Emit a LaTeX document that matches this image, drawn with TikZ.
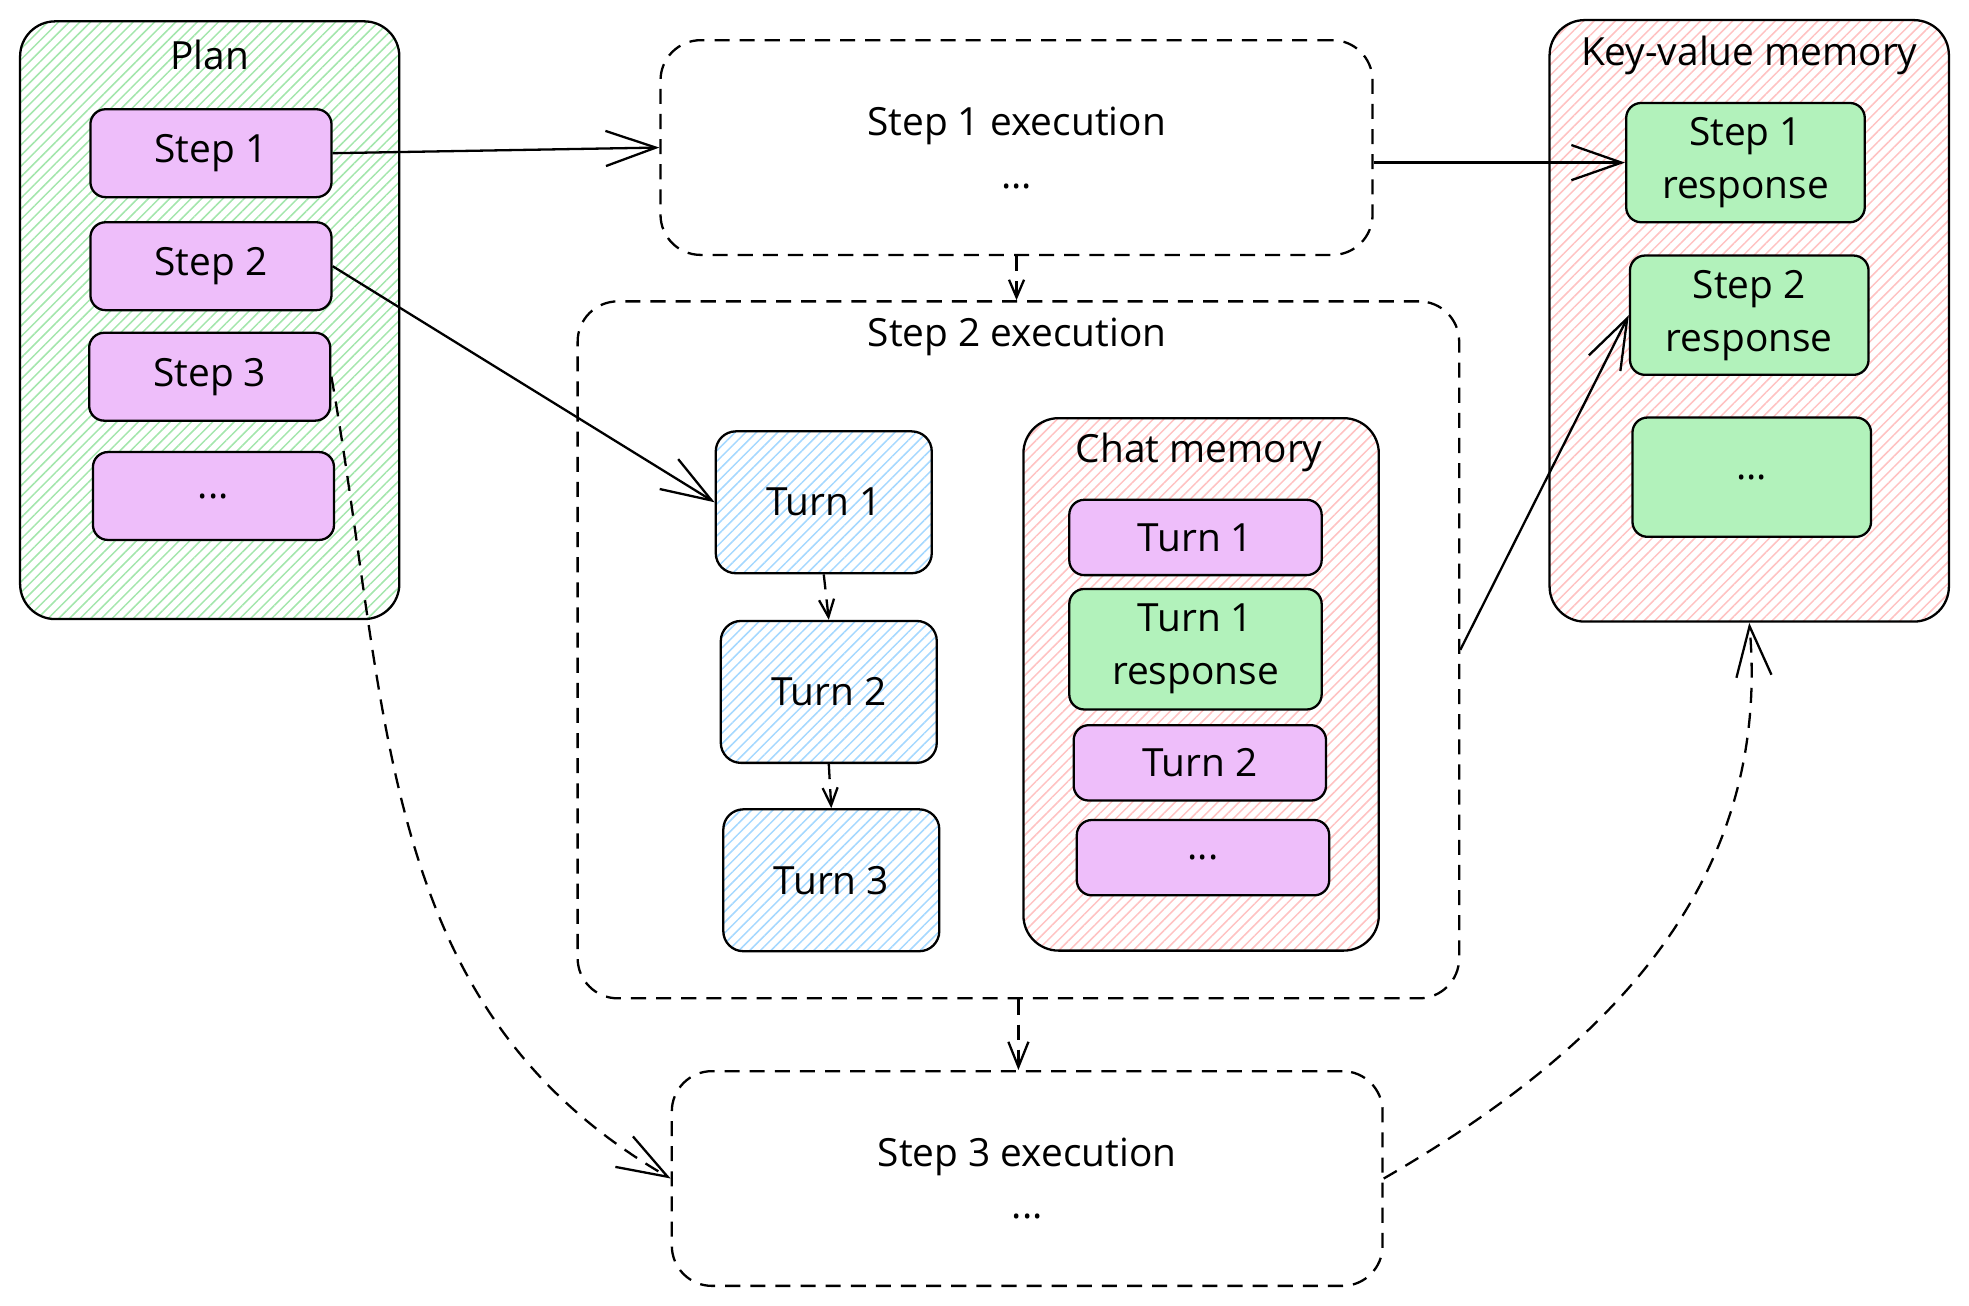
\documentclass[tikz,border=0pt]{standalone}
\usepackage{fontspec}
\setmainfont{Open Sans}
\usetikzlibrary{arrows.meta}
\usetikzlibrary{patterns.meta}
\definecolor{stepfill}{HTML}{EEBEFA}
\definecolor{respfill}{HTML}{B2F2BB}
\definecolor{plangreen}{HTML}{A3E6AC}
\definecolor{memred}{HTML}{FFC2C2}
\definecolor{turnblue}{HTML}{A5D8FF}

\begin{document}
\begin{tikzpicture}[x=0.25mm, y=-0.25mm, line width=1.3pt,
    font=\fontsize{22}{30}\selectfont,
    hatch/.style={draw, rounded corners=7mm,
      pattern={Lines[angle=45,distance=1.5mm,line width=0.3mm]}, pattern color=#1},
    card/.style={draw, rounded corners=3mm, fill=#1, align=center, inner sep=0pt},
    dashy/.style={dash pattern=on 3mm off 2mm},
    stage/.style={draw, dashy, rounded corners=8mm, align=center},
    big/.style={-{Straight Barb[length=10mm,width=7mm]}},
    small/.style={dashy, -{Straight Barb[length=3.5mm,width=3mm]}},
    mid/.style={dashy, -{Straight Barb[length=5mm,width=4mm]}}]
  \useasboundingbox (0,0) rectangle (1568,1040);

  % plan
  \node[hatch=plangreen, minimum width=75.5mm, minimum height=119mm] (plan) at (167,255) {};
  \node (plantitle) at (167,44) {Plan};
  \node[card=stepfill, minimum width=48mm, minimum height=17.5mm] (s1) at (168,122) {Step 1};
  \node[card=stepfill, minimum width=48mm, minimum height=17.5mm] (s2) at (168,212) {Step 2};
  \node[card=stepfill, minimum width=48mm, minimum height=17.5mm] (s3) at (167,300) {Step 3};
  \node[card=stepfill, minimum width=48mm, minimum height=17.5mm] (s4) at (170,395) {...};

  % executions
  \node[stage, minimum width=141.75mm, minimum height=42.75mm] (e1) at (809.5,117.5) {Step 1 execution\\...};
  \node[stage, minimum width=175.5mm, minimum height=138.75mm] (e2) at (811,517.5) {};
  \node (e2title) at (810,268) {Step 2 execution};
  \node[stage, minimum width=141.5mm, minimum height=42.75mm] (e3) at (818,938.5) {Step 3 execution\\...};

  % turns
  \node[hatch=turnblue, rounded corners=4mm, minimum width=43mm, minimum height=28.25mm] (t1) at (656,400) {Turn 1};
  \node[hatch=turnblue, rounded corners=4mm, minimum width=43mm, minimum height=28.25mm] (t2) at (660,551) {Turn 2};
  \node[hatch=turnblue, rounded corners=4mm, minimum width=43mm, minimum height=28.25mm] (t3) at (662,701) {Turn 3};

  % chat memory
  \node[hatch=memred, minimum width=70.75mm, minimum height=106mm] (chat) at (956.5,545) {};
  \node (chattitle) at (955,360) {Chat memory};
  \node[card=stepfill, minimum width=50.25mm, minimum height=15mm] (c1) at (952,428) {Turn 1};
  \node[card=respfill, minimum width=50.25mm, minimum height=24mm] (c2) at (952,517) {Turn 1\\response};
  \node[card=stepfill, minimum width=50.25mm, minimum height=15mm] (c3) at (955.5,607.5) {Turn 2};
  \node[card=stepfill, minimum width=50.25mm, minimum height=15mm] (c4) at (958,683) {...};

  % key-value memory
  \node[hatch=memred, minimum width=79.5mm, minimum height=119.75mm] (kv) at (1393,255.5) {};
  \node (kvtitle) at (1393,44) {Key-value memory};
  \node[card=respfill, minimum width=47.5mm, minimum height=23.75mm] (kv1) at (1390,129.5) {Step 1\\response};
  \node[card=respfill, minimum width=47.5mm, minimum height=23.75mm] (kv2) at (1393,251) {Step 2\\response};
  \node[card=respfill, minimum width=47.5mm, minimum height=23.75mm] (kv3) at (1395,380) {...};

  \draw[big] (s1.east) -- (e1.west);
  \draw[big] (e1.east |- kv1.west) -- (kv1.west);
  \draw[small] (e1.south) -- (e1.south |- e2.north);
  \draw[big] (s2.east) -- (t1.west);
  \draw[small] (t1.south) -- (t2.north);
  \draw[small] (t2.south) -- (t3.north);
  \draw[big] (e2.east) -- (kv2.west);
  \draw[mid] (e2.south) -- (e2.south |- e3.north);
  \draw[big, dashy] (s3.east) to[out=-80, in=150] (e3.west);
  \draw[big, dashy] (e3.east) to[out=30, in=-85] (kv.south);
\end{tikzpicture}
\end{document}
